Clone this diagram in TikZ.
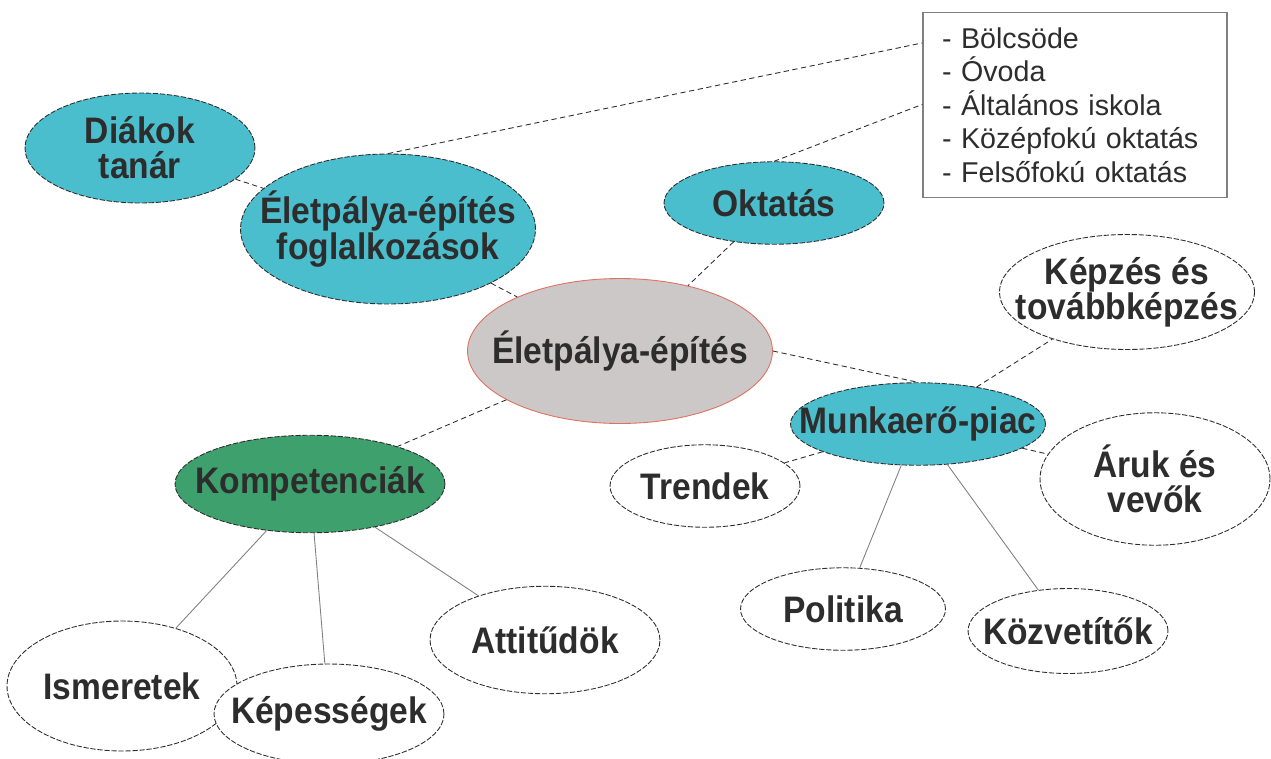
\documentclass[tikz,border=0pt]{standalone}
\usepackage{fontspec}
\usepackage{tikz}
\usetikzlibrary{shapes.geometric}
\newfontfamily\bubblefont{Liberation Sans}[FakeStretch=0.91]
\newfontfamily\listfont{Liberation Sans}
\definecolor{tealfill}{RGB}{75,190,206}
\definecolor{greenfill}{RGB}{62,160,108}
\definecolor{greyfill}{RGB}{204,200,200}
\definecolor{redline}{RGB}{224,112,96}
\definecolor{inkgrey}{RGB}{45,45,45}
\tikzset{
	bubble/.style={ellipse, draw=inkgrey, dash pattern=on 3pt off 1pt, line width=0.5pt, inner sep=0pt,
		label={[text=inkgrey, font=\bubblefont\bfseries\fontsize{21}{20}\selectfont, align=center]center:#1}},
	link/.style={draw=inkgrey, densely dashed, line width=0.5pt},
	leg/.style={draw=gray, line width=0.5pt}
}

\begin{document}
\begin{tikzpicture}[x=0.02cm, y=-0.02cm]
			\useasboundingbox (0,0) rectangle (1271,758);

			\node[draw=gray, line width=0.7pt, inner xsep=0.38cm, inner ysep=0pt, text width=5.32cm,
				minimum height=3.7cm, align=left, text=inkgrey,
				font=\listfont\fontsize{16.3}{19}\selectfont] (lista) at (1075,105)
				{- Bölcsöde\\- Óvoda\\- Általános iskola\\- Középfokú oktatás\\- Felsőfokú oktatás};

			\node[bubble={Diákok\\tanár}, fill=tealfill, minimum width=4.6cm, minimum height=2.2cm] (diakok) at (140,148) {};
			\node[bubble={Életpálya-építés\\foglalkozások}, fill=tealfill, minimum width=5.9cm, minimum height=3.0cm] (foglalk) at (388,229) {};
			\node[bubble={Oktatás}, fill=tealfill, minimum width=4.4cm, minimum height=1.65cm] (oktatas) at (774,203) {};
			\node[bubble={Életpálya-építés}, fill=greyfill, draw=redline, solid, minimum width=6.1cm, minimum height=2.9cm] (kozpont) at (620,351) {};
			\node[bubble={Képzés és\\továbbképzés}, fill=white, minimum width=5.1cm, minimum height=2.3cm] (kepzes) at (1127,292) {};
			\node[bubble={Munkaerő-piac}, fill=tealfill, minimum width=5.1cm, minimum height=1.65cm] (munka) at (918,424) {};
			\node[bubble={Kompetenciák}, fill=greenfill, minimum width=5.4cm, minimum height=1.95cm] (kompet) at (310,484) {};
			\node[bubble={Trendek}, fill=white, minimum width=3.8cm, minimum height=1.65cm] (trendek) at (705,486) {};
			\node[bubble={Áruk és\\vevők}, fill=white, minimum width=4.6cm, minimum height=2.65cm] (aruk) at (1155,479) {};
			\node[bubble={Ismeretek}, fill=white, minimum width=4.6cm, minimum height=2.6cm] (ismeret) at (122,686) {};
			\node[bubble={Képességek}, fill=white, minimum width=4.6cm, minimum height=2.0cm] (kepesseg) at (329,714) {};
			\node[bubble={Attitűdök}, fill=white, minimum width=4.6cm, minimum height=2.15cm] (attitud) at (545,640) {};
			\node[bubble={Politika}, fill=white, minimum width=4.1cm, minimum height=1.65cm] (politika) at (843,609) {};
			\node[bubble={Közvetítők}, fill=white, minimum width=4.0cm, minimum height=1.7cm] (kozvetit) at (1068,631) {};

			\path[link] (foglalk.north) -- ([yshift=-0.62cm]lista.north west);
			\path[link] (oktatas.north) -- ([yshift=-1.85cm]lista.north west);
			\path[link] (diakok) -- (foglalk);
			\path[link] (foglalk) -- (kozpont);
			\path[link] (oktatas) -- (kozpont);
			\path[link] (kozpont.east) -- (munka.north);
			\path[link] (munka) -- (kepzes);
			\path[link] (kozpont) -- (kompet);
			\path[link] (munka) -- (trendek);
			\path[link] (munka) -- (aruk);
			\path[leg] (munka) -- (politika);
			\path[leg] (munka) -- (kozvetit);
			\path[leg] (kompet) -- (ismeret);
			\path[leg] (kompet) -- (kepesseg);
			\path[leg] (kompet) -- (attitud);
		\end{tikzpicture}
\end{document}
